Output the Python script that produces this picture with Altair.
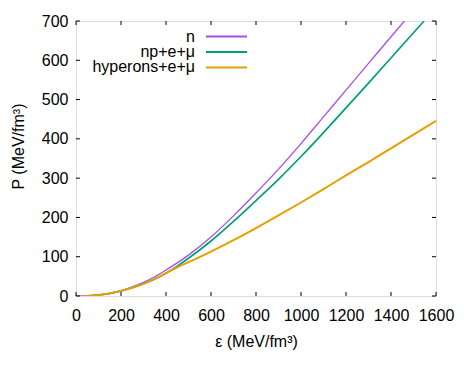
import altair as alt
import pandas as pd

# ---- data ----
series_names = ["n", "np+e+μ", "hyperons+e+μ"]
series_colors = ["#a64fe4", "#009e73", "#e69f00"]

eps_n = [0, 50, 100, 150, 200, 250, 300, 350, 400, 500, 600, 700, 800, 900, 1000, 1100, 1200, 1300, 1400, 1460]
P_n = [0, 0.5, 2.5, 7, 13, 23, 35, 49, 66, 104, 150, 204, 262, 323, 388, 456, 524, 592, 660, 700]

eps_np = [40, 100, 150, 200, 250, 300, 350, 400, 450, 500, 600, 700, 800, 900, 1000, 1100, 1200, 1300, 1400, 1500, 1547]
P_np = [0, 2.5, 6.5, 13, 21, 31, 43, 58, 76, 96, 140, 190, 243, 297, 355, 416, 479, 542, 606, 670, 700]

eps_hyp = [40, 100, 150, 200, 250, 300, 350, 400, 450, 500, 600, 700, 800, 900, 1000, 1100, 1200, 1300, 1400, 1500, 1600]
P_hyp = [0, 2.5, 6.5, 13, 21, 31, 43, 58, 73, 86, 113, 142, 173, 205, 238, 272, 307, 341, 376, 411, 446]

x_ticks = [0, 200, 400, 600, 800, 1000, 1200, 1400, 1600]
y_ticks = [0, 100, 200, 300, 400, 500, 600, 700]

rows = []
for name, xs, ys in zip(series_names, [eps_n, eps_np, eps_hyp], [P_n, P_np, P_hyp]):
    for i, (e, p) in enumerate(zip(xs, ys)):
        rows.append({"series": name, "eps": e, "P": p, "order": i})
curves = pd.DataFrame(rows)
xt = pd.DataFrame({"v": x_ticks})
yt = pd.DataFrame({"v": y_ticks})
leg = pd.DataFrame({"series": series_names})

W, H = 360, 275
FONT = "Liberation Sans"
FS = 16

xscale = alt.Scale(domain=[0, 1600], nice=False, zero=False)
yscale = alt.Scale(domain=[0, 700], nice=False, zero=False)
cscale = alt.Scale(domain=series_names, range=series_colors)

xaxis = alt.Axis(values=x_ticks, format="d", title="ε (MeV/fm³)", grid=False,
                 ticks=False, domain=False, tickSize=0, labelPadding=11,
                 labelFontSize=FS, labelFont=FONT, labelColor="black",
                 titleFont=FONT, titleFontSize=FS, titleFontWeight="normal",
                 titleColor="black", titleBaseline="alphabetic", titleY=50,
                 labelOverlap=False, labelFlush=False)
yaxis = alt.Axis(values=y_ticks, format="d", title="P (MeV/fm³)", grid=False,
                 ticks=False, domain=False, tickSize=0, labelPadding=8,
                 labelFontSize=FS, labelFont=FONT, labelColor="black",
                 titleFont=FONT, titleFontSize=FS, titleFontWeight="normal",
                 titleColor="black", titleAngle=270, titleBaseline="alphabetic",
                 titleX=-53, titleY=125, titleAlign="center",
                 labelOverlap=False)

lines = alt.Chart(curves).mark_line(clip=True, interpolate="monotone").encode(
    x=alt.X("eps:Q", scale=xscale, axis=xaxis),
    y=alt.Y("P:Q", scale=yscale, axis=yaxis),
    color=alt.Color("series:N", scale=cscale, legend=None),
    strokeWidth=alt.StrokeWidth("series:N",
                                scale=alt.Scale(domain=series_names, range=[1.3, 2, 2]),
                                legend=None),
    order="order:Q",
)

tick_len = 4
bx = alt.Chart(xt).mark_rule(color="black", strokeWidth=1).encode(
    x=alt.X("v:Q", scale=xscale, axis=xaxis), y=alt.value(H), y2=alt.value(H - tick_len))
tx = alt.Chart(xt).mark_rule(color="black", strokeWidth=1).encode(
    x=alt.X("v:Q", scale=xscale, axis=xaxis), y=alt.value(0), y2=alt.value(tick_len))
ly = alt.Chart(yt).mark_rule(color="black", strokeWidth=1).encode(
    y=alt.Y("v:Q", scale=yscale, axis=yaxis), x=alt.value(0), x2=alt.value(tick_len))
ry = alt.Chart(yt).mark_rule(color="black", strokeWidth=1).encode(
    y=alt.Y("v:Q", scale=yscale, axis=yaxis), x=alt.value(W), x2=alt.value(W - tick_len))

main = alt.layer(lines, bx, tx, ly, ry)

# legend rows 18px apart, first row 13px below the top border
legy = alt.Scale(domain=series_names, range=[4, 58], padding=0.5)
leg_text = alt.Chart(leg).mark_text(align="right", baseline="middle", font=FONT,
                                    fontSize=FS, color="black").encode(
    x=alt.value(119),
    y=alt.Y("series:N", scale=legy, axis=None),
    text="series:N",
)
leg_line = alt.Chart(leg).mark_rule(strokeWidth=2).encode(
    x=alt.value(130), x2=alt.value(171),
    y=alt.Y("series:N", scale=legy, axis=None),
    color=alt.Color("series:N", scale=cscale, legend=None),
)
legend = alt.layer(leg_text, leg_line)

chart = alt.layer(main, legend).resolve_scale(y="independent").properties(
    width=W, height=H,
    autosize=alt.AutoSizeParams(type="none"),
    padding={"left": 68, "top": 13, "right": 20, "bottom": 60},
).configure_view(stroke="black", strokeWidth=1).configure(background="white")

chart.save("out.html", embed_options={"renderer": "svg", "actions": False})
